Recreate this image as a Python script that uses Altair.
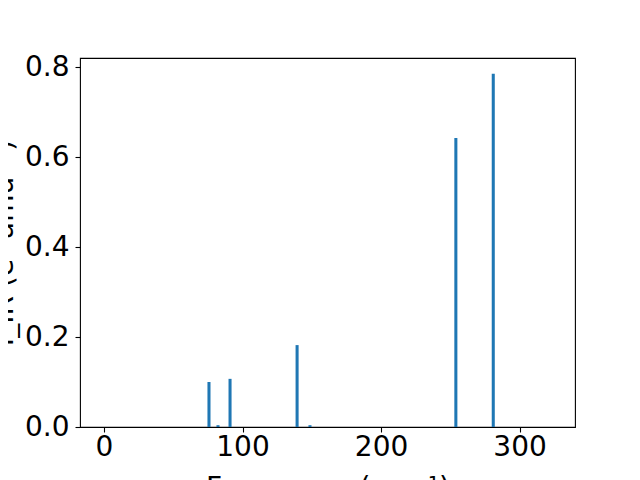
import altair as alt
import pandas as pd

frequencies = [0.0, 75.8, 82.3, 91.0, 139.4, 148.7, 254.0, 281.0, 323.0]
intensities = [0.0, 0.100, 0.004, 0.107, 0.182, 0.004, 0.642, 0.785, 0.0]
x_ticks = [0, 100, 200, 300]
y_ticks = [0.0, 0.2, 0.4, 0.6, 0.8]

df = pd.DataFrame({"freq": frequencies, "inten": intensities})

chart = (
    alt.Chart(df)
    .transform_calculate(x0="datum.freq - 1.1", x1="datum.freq + 1.1")
    .mark_bar(color="#1f77b4")
    .encode(
        x=alt.X(
            "x0:Q",
            scale=alt.Scale(domain=[-17.3, 340], nice=False, zero=False),
            axis=alt.Axis(
                values=x_ticks,
                format="d",
                title="Frequency (cm⁻¹)",
            ),
        ),
        x2="x1:Q",
        y=alt.Y(
            "inten:Q",
            scale=alt.Scale(domain=[0, 0.82], nice=False),
            axis=alt.Axis(
                values=y_ticks,
                format=".1f",
                title="I_IR (e² amu⁻¹)",
            ),
        ),
        y2=alt.datum(0),
    )
    .properties(
        width=495,
        height=369,
        autosize=alt.AutoSizeParams(type="none"),
        padding={"left": 72, "top": 50, "right": 57, "bottom": 53},
    )
    .configure_view(stroke="black", strokeWidth=1.1)
    .configure_axis(
        grid=False,
        domain=False,
        tickColor="black",
        tickSize=5,
        tickWidth=1.1,
        labelFont="DejaVu Sans",
        labelFontSize=28,
        labelColor="black",
        titleFont="DejaVu Sans",
        titleFontSize=28,
        titleFontWeight="normal",
        titleColor="black",
    )
    .configure_axisX(labelPadding=1, titlePadding=13)
    .configure_axisY(labelPadding=6, titlePadding=6)
)

chart.save("out.html", embed_options={"renderer": "svg", "actions": False})
